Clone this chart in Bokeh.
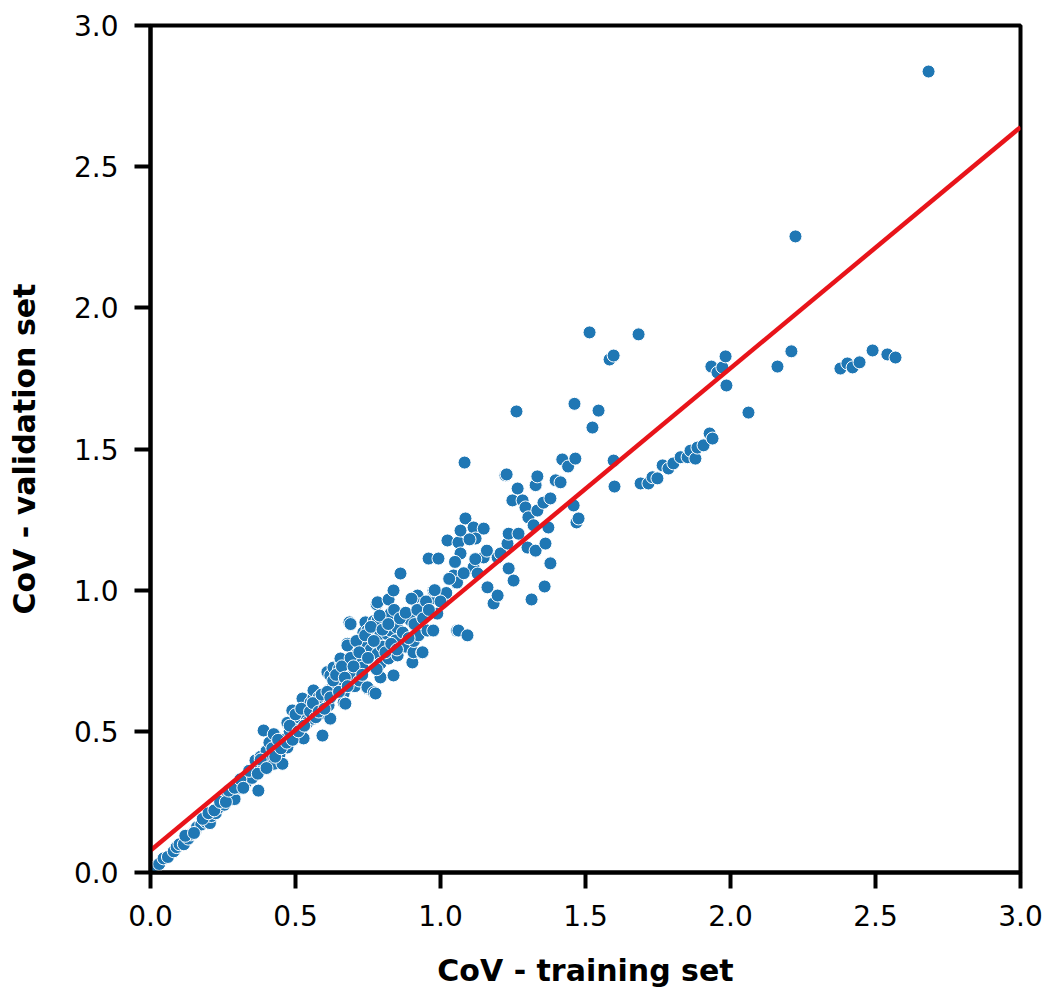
from bokeh.plotting import figure
from bokeh.models import ColumnDataSource, NumeralTickFormatter, FixedTicker, Range1d
from bokeh.embed import file_html
from bokeh.resources import INLINE

cov_train = [
    0.01, 0.02, 0.03, 0.045, 0.06, 0.08, 0.09, 0.10, 0.115, 0.13, 0.14, 0.155, 0.16, 0.175, 0.19,
    0.205, 0.21, 0.225, 0.235, 0.25, 0.255, 0.265, 0.275, 0.28, 0.29, 0.295, 0.30, 0.31, 0.32, 0.33,
    0.345, 0.35, 0.36, 0.362, 0.372, 0.375, 0.38, 0.39, 0.39, 0.40, 0.41, 0.415, 0.425, 0.425, 0.435,
    0.445, 0.455, 0.46, 0.472, 0.472, 0.48, 0.489, 0.50, 0.51, 0.52, 0.528, 0.524, 0.53, 0.54, 0.552,
    0.552, 0.56, 0.562, 0.562, 0.575, 0.586, 0.593, 0.60, 0.61, 0.614, 0.614, 0.62, 0.62, 0.628, 0.631,
    0.645, 0.655, 0.655, 0.666, 0.666, 0.672, 0.679, 0.679, 0.686, 0.69, 0.69, 0.697, 0.713, 0.58, 0.64,
    0.65, 0.70, 0.705, 0.72, 0.73,
    0.731, 0.734, 0.741, 0.748, 0.748, 0.748, 0.748, 0.76, 0.77, 0.77, 0.776, 0.776, 0.78, 0.783, 0.783,
    0.783, 0.793, 0.793, 0.793, 0.80, 0.816, 0.821, 0.821, 0.828, 0.828, 0.838, 0.838, 0.845, 0.85, 0.852,
    0.862, 0.872, 0.88, 0.897, 0.903, 0.907, 0.908, 0.921, 0.924, 0.93, 0.937, 0.938, 0.938, 0.955,
    0.959, 0.972, 0.975, 0.976, 0.989, 0.993, 1.007, 1.02, 1.024, 1.045, 1.057, 1.057, 1.062, 1.062,
    1.069, 1.069, 1.083, 1.086, 1.093, 1.114, 1.114, 1.121, 1.128, 1.149, 1.149, 1.162, 1.183, 1.197,
    1.197, 1.207, 1.224, 1.228, 1.231, 1.235, 1.235, 1.248, 1.252, 1.262, 1.266, 1.269, 1.283, 1.293,
    1.30, 1.303, 1.314, 1.321, 1.328, 1.328, 1.334, 1.334, 1.355, 1.359, 1.362, 1.372, 1.379, 1.379,
    1.397, 1.414, 1.42, 1.44, 1.459, 1.462, 1.465, 1.469, 1.476, 1.514, 1.524, 1.545, 1.583, 1.597,
    1.597, 1.60, 1.683,
    1.69, 1.717, 1.731, 1.748, 1.766, 1.786, 1.803, 1.828, 1.852, 1.862, 1.879, 1.886, 1.907, 1.928, 1.938,
    1.934, 1.955, 1.972, 1.983, 1.986, 2.062, 2.162, 2.21, 2.224, 2.379, 2.403, 2.421, 2.445, 2.49,
    2.541, 2.569, 2.683,
    0.12, 0.15, 0.18, 0.20, 0.22, 0.24, 0.26, 0.27, 0.29, 0.31,
    0.32, 0.34, 0.37, 0.38, 0.40, 0.42, 0.43, 0.44, 0.45, 0.47, 0.48, 0.49, 0.50, 0.51, 0.52,
    0.53, 0.55, 0.56, 0.57, 0.58, 0.59, 0.60, 0.61, 0.62, 0.63, 0.64, 0.65, 0.66, 0.67, 0.68,
    0.69, 0.70, 0.71, 0.72, 0.73, 0.74, 0.75, 0.76, 0.77, 0.78, 0.79, 0.80, 0.81, 0.82, 0.83,
    0.84, 0.85, 0.86, 0.87, 0.88, 0.89, 0.90, 0.91, 0.92, 0.94, 0.95, 0.96, 0.98, 1.00, 1.03,
    1.05, 1.08, 1.10, 1.12, 1.16,
]
cov_valid = [
    0.01, 0.02, 0.03, 0.05, 0.055, 0.075, 0.09, 0.10, 0.10, 0.12, 0.135, 0.15, 0.16, 0.17, 0.18,
    0.175, 0.20, 0.21, 0.23, 0.255, 0.24, 0.265, 0.26, 0.28, 0.26, 0.30, 0.315, 0.30, 0.33, 0.32,
    0.35, 0.335, 0.37, 0.397, 0.29, 0.36, 0.41, 0.38, 0.503, 0.43, 0.46, 0.40, 0.49, 0.385, 0.45,
    0.42, 0.385, 0.47, 0.443, 0.53, 0.50, 0.574, 0.52, 0.55, 0.49, 0.475, 0.616, 0.56, 0.53, 0.585,
    0.602, 0.545, 0.62, 0.645, 0.59, 0.563, 0.485, 0.61, 0.71, 0.645, 0.592, 0.545, 0.698, 0.656, 0.726,
    0.687, 0.75, 0.758, 0.634, 0.602, 0.598, 0.81, 0.804, 0.886, 0.88, 0.691, 0.74, 0.775, 0.62, 0.66,
    0.72, 0.70, 0.66, 0.68, 0.75,
    0.726, 0.85, 0.886, 0.81, 0.652, 0.857, 0.656, 0.79, 0.638, 0.89, 0.815, 0.634, 0.95, 0.893, 0.775,
    0.957, 0.74, 0.845, 0.691, 0.80, 0.845, 0.758, 0.967, 0.917, 0.857, 0.698, 0.999, 0.822, 0.868, 0.769,
    1.059, 0.917, 0.80, 0.893, 0.744, 0.78, 0.82, 0.981, 0.84, 0.95, 0.779, 0.939, 0.78, 0.857,
    1.112, 0.971, 0.857, 0.999, 0.917, 1.112, 0.957, 0.99, 1.176, 1.052, 0.857, 1.027, 1.169, 0.857,
    1.211, 1.13, 1.452, 1.254, 0.84, 1.222, 1.081, 1.183, 1.059, 1.218, 1.116, 1.010, 0.953, 0.981,
    1.116, 1.13, 1.407, 1.41, 1.165, 1.20, 1.077, 1.318, 1.034, 1.633, 1.36, 1.20, 1.318, 1.293,
    1.151, 1.258, 0.967, 1.23, 1.372, 1.14, 1.403, 1.282, 1.31, 1.013, 1.165, 1.222, 1.325, 1.095,
    1.389, 1.382, 1.463, 1.438, 1.30, 1.66, 1.466, 1.24, 1.254, 1.913, 1.576, 1.636, 1.817, 1.831,
    1.459, 1.367, 1.906,
    1.378, 1.378, 1.40, 1.396, 1.442, 1.431, 1.449, 1.471, 1.471, 1.494, 1.466, 1.505, 1.513, 1.555, 1.537,
    1.792, 1.771, 1.789, 1.828, 1.725, 1.629, 1.792, 1.846, 2.253, 1.785, 1.803, 1.789, 1.807, 1.849,
    1.835, 1.824, 2.837,
    0.13, 0.14, 0.19, 0.21, 0.22, 0.25, 0.25, 0.29, 0.30, 0.33,
    0.30, 0.36, 0.35, 0.40, 0.37, 0.44, 0.41, 0.47, 0.44, 0.46, 0.52, 0.47, 0.56, 0.50, 0.58,
    0.52, 0.57, 0.60, 0.55, 0.57, 0.63, 0.58, 0.64, 0.62, 0.68, 0.70, 0.64, 0.73, 0.69, 0.66,
    0.76, 0.73, 0.82, 0.78, 0.70, 0.84, 0.76, 0.87, 0.82, 0.72, 0.91, 0.86, 0.78, 0.88, 0.81,
    0.93, 0.79, 0.90, 0.85, 0.92, 0.83, 0.97, 0.88, 0.93, 0.90, 0.96, 0.93, 1.00, 0.96, 1.04,
    1.10, 1.06, 1.18, 1.11, 1.14,
]

fit_x = [0.0, 3.0]
fit_y = [0.078, 2.64]

tick_values = [0.0, 0.5, 1.0, 1.5, 2.0, 2.5, 3.0]

p = figure(width=1052, height=994, output_backend="svg", toolbar_location=None,
           x_range=Range1d(0, 3.0), y_range=Range1d(0, 3.0),
           min_border_left=150, min_border_right=32, min_border_top=25, min_border_bottom=122)

src = ColumnDataSource(data=dict(x=cov_train, y=cov_valid))
p.scatter("x", "y", source=src, size=13, fill_color="#1f77b4", line_color="white", line_width=1)
p.line(fit_x, fit_y, line_color="#e8141a", line_width=4.5)

p.xgrid.visible = False
p.ygrid.visible = False
p.outline_line_color = "black"
p.outline_line_width = 4
p.outline_line_alpha = 1.0
p.background_fill_color = "white"
p.border_fill_color = "white"

for ax, label in ((p.xaxis[0], "CoV - training set"), (p.yaxis[0], "CoV - validation set")):
    ax.ticker = FixedTicker(ticks=tick_values)
    ax.formatter = NumeralTickFormatter(format="0.0")
    ax.axis_label = label
    ax.axis_label_text_font = "DejaVu Sans"
    ax.axis_label_text_font_style = "bold"
    ax.axis_label_text_font_size = "30px"
    ax.axis_label_text_color = "black"
    ax.major_label_text_font = "DejaVu Sans"
    ax.major_label_text_font_size = "28px"
    ax.major_label_text_color = "black"
    ax.axis_line_width = 4
    ax.axis_line_color = "black"
    ax.major_tick_line_width = 4
    ax.major_tick_line_color = "black"
    ax.major_tick_out = 16
    ax.major_tick_in = 0
    ax.minor_tick_line_color = None
    ax.major_label_standoff = 16

p.xaxis[0].axis_label_standoff = 24
p.yaxis[0].axis_label_standoff = 29

open("out.html", "w").write(file_html(p, INLINE))
